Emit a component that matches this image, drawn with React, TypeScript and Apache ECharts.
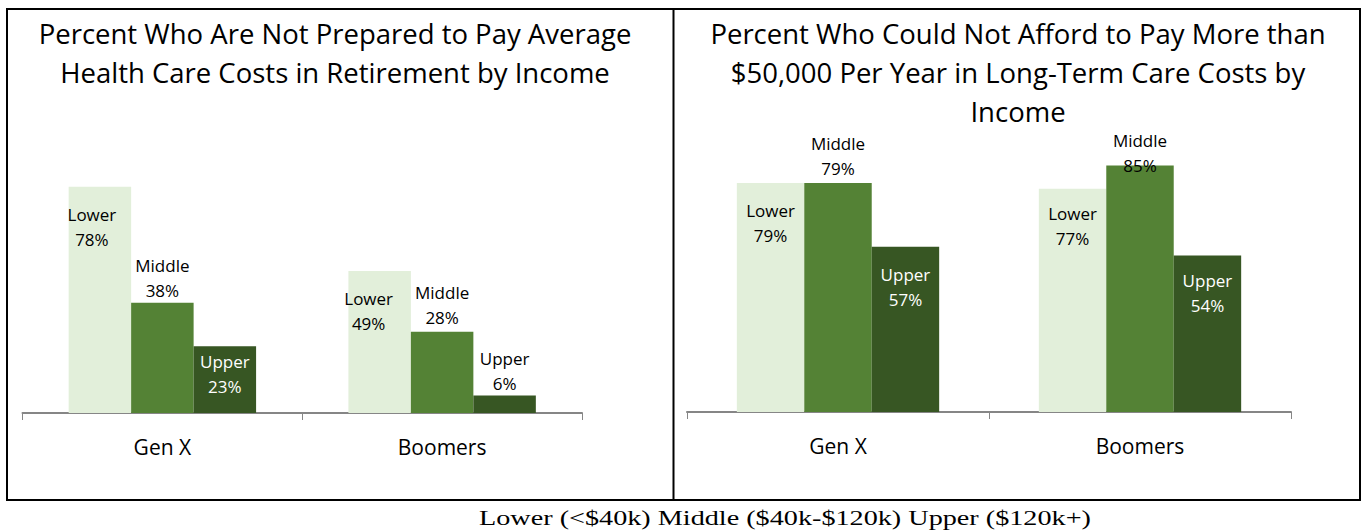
import React, { useEffect, useRef } from "react";
import * as echarts from "echarts";

const categories = ["Gen X", "Boomers"];
const incomeNames = ["Lower", "Middle", "Upper"];
const leftTitle = "Percent Who Are Not Prepared to Pay Average\nHealth Care Costs in Retirement by Income";
const rightTitle = "Percent Who Could Not Afford to Pay More than\n$50,000 Per Year in Long-Term Care Costs by\nIncome";
const leftLower = [78, 49];
const leftMiddle = [38, 28];
const leftUpper = [23, 6];
const rightLower = [79, 77];
const rightMiddle = [79, 85];
const rightUpper = [57, 54];
const footnote = "Lower (<$40k) Middle ($40k-$120k) Upper ($120k+)";

const colors = ["#e2efda", "#548235", "#375623"];
const FONT = "Open Sans";

// label placement per panel / income / category: [position, distance, dx, dy, color]
type LP = [string, number, number, number, string];
const leftPlace: LP[][] = [
  [["insideTop", 15, -8, 0, "#000"], ["insideTop", 15, -11, 0, "#000"]],
  [["top", 0, 0, 0, "#000"], ["top", 2, 0, 0, "#000"]],
  [["insideTop", 3, 0, 0, "#fff"], ["top", 0, 0, 0, "#000"]],
];
const rightPlace: LP[][] = [
  [["insideTop", 15, 0, 0, "#000"], ["insideTop", 12, 0, 0, "#000"]],
  [["top", 2, 0, 0, "#000"], ["top", 0, 0, 12, "#000"]],
  [["insideTop", 15, 0, 0, "#fff"], ["insideTop", 13, 0, 0, "#fff"]],
];

function makeSeries(values: number[], idx: number, axis: number, place: LP[][]) {
  return {
    type: "bar",
    name: incomeNames[idx],
    xAxisIndex: axis,
    yAxisIndex: axis,
    barGap: "0%",
    barCategoryGap: "33%",
    itemStyle: { color: colors[idx] },
    data: values.map((v, i) => {
      const p = place[idx][i];
      return {
        value: v,
        label: {
          show: true,
          position: p[0],
          distance: p[1],
          offset: [p[2], p[3]],
          color: p[4],
          fontFamily: FONT,
          fontSize: 17,
          lineHeight: 25,
          formatter: () => incomeNames[idx] + "\n" + v + "%",
        },
      };
    }),
  };
}

export default function App() {
  const ref = useRef<HTMLDivElement>(null);
  useEffect(() => {
    if (!ref.current) return;
    const chart = echarts.init(ref.current, null, { renderer: "svg" });
    const xAxisBase = {
      type: "category",
      data: categories,
      axisLine: { lineStyle: { color: "#868686", width: 2 } },
      axisTick: { show: true, length: 7, lineStyle: { color: "#868686", width: 1 } },
      axisLabel: { color: "#000", fontFamily: FONT, fontSize: 21, margin: 23 },
    };
    const yAxisBase = {
      type: "value",
      min: 0,
      max: 100,
      show: false,
      splitLine: { show: false },
    };
    chart.setOption({
      animation: false,
      backgroundColor: "#fff",
      grid: [
        { left: 22.5, width: 559.5, top: 123, height: 290 },
        { left: 687, width: 604, top: 122, height: 290 },
      ],
      xAxis: [
        { ...xAxisBase, gridIndex: 0 },
        { ...xAxisBase, gridIndex: 1 },
      ],
      yAxis: [
        { ...yAxisBase, gridIndex: 0 },
        { ...yAxisBase, gridIndex: 1 },
      ],
      series: [
        makeSeries(leftLower, 0, 0, leftPlace),
        makeSeries(leftMiddle, 1, 0, leftPlace),
        makeSeries(leftUpper, 2, 0, leftPlace),
        makeSeries(rightLower, 0, 1, rightPlace),
        makeSeries(rightMiddle, 1, 1, rightPlace),
        makeSeries(rightUpper, 2, 1, rightPlace),
      ],
      graphic: [
        {
          type: "rect",
          shape: { x: 7, y: 9, width: 1353, height: 491 },
          style: { fill: "none", stroke: "#000", lineWidth: 2 },
          silent: true,
        },
        {
          type: "line",
          shape: { x1: 673.5, y1: 9, x2: 673.5, y2: 500 },
          style: { stroke: "#000", lineWidth: 2 },
          silent: true,
        },
        {
          type: "text",
          x: 335,
          y: 14,
          style: {
            text: leftTitle,
            font: `27.5px "${FONT}"`,
            fill: "#000",
            textAlign: "center",
            textVerticalAlign: "top",
            lineHeight: 39,
          },
        },
        {
          type: "text",
          x: 1018,
          y: 14,
          style: {
            text: rightTitle,
            font: `27.5px "${FONT}"`,
            fill: "#000",
            textAlign: "center",
            textVerticalAlign: "top",
            lineHeight: 39,
          },
        },
        {
          type: "text",
          x: 785,
          y: 518,
          scaleX: 1.41,
          style: {
            text: footnote,
            font: `20px "Liberation Serif"`,
            fill: "#000",
            textAlign: "center",
            textVerticalAlign: "middle",
          },
        },
      ],
    });
    return () => chart.dispose();
  }, []);
  return (
    <div
      ref={ref}
      style={{ position: "fixed", left: 0, top: 0, width: 1363, height: 532, background: "#fff" }}
    />
  );
}
